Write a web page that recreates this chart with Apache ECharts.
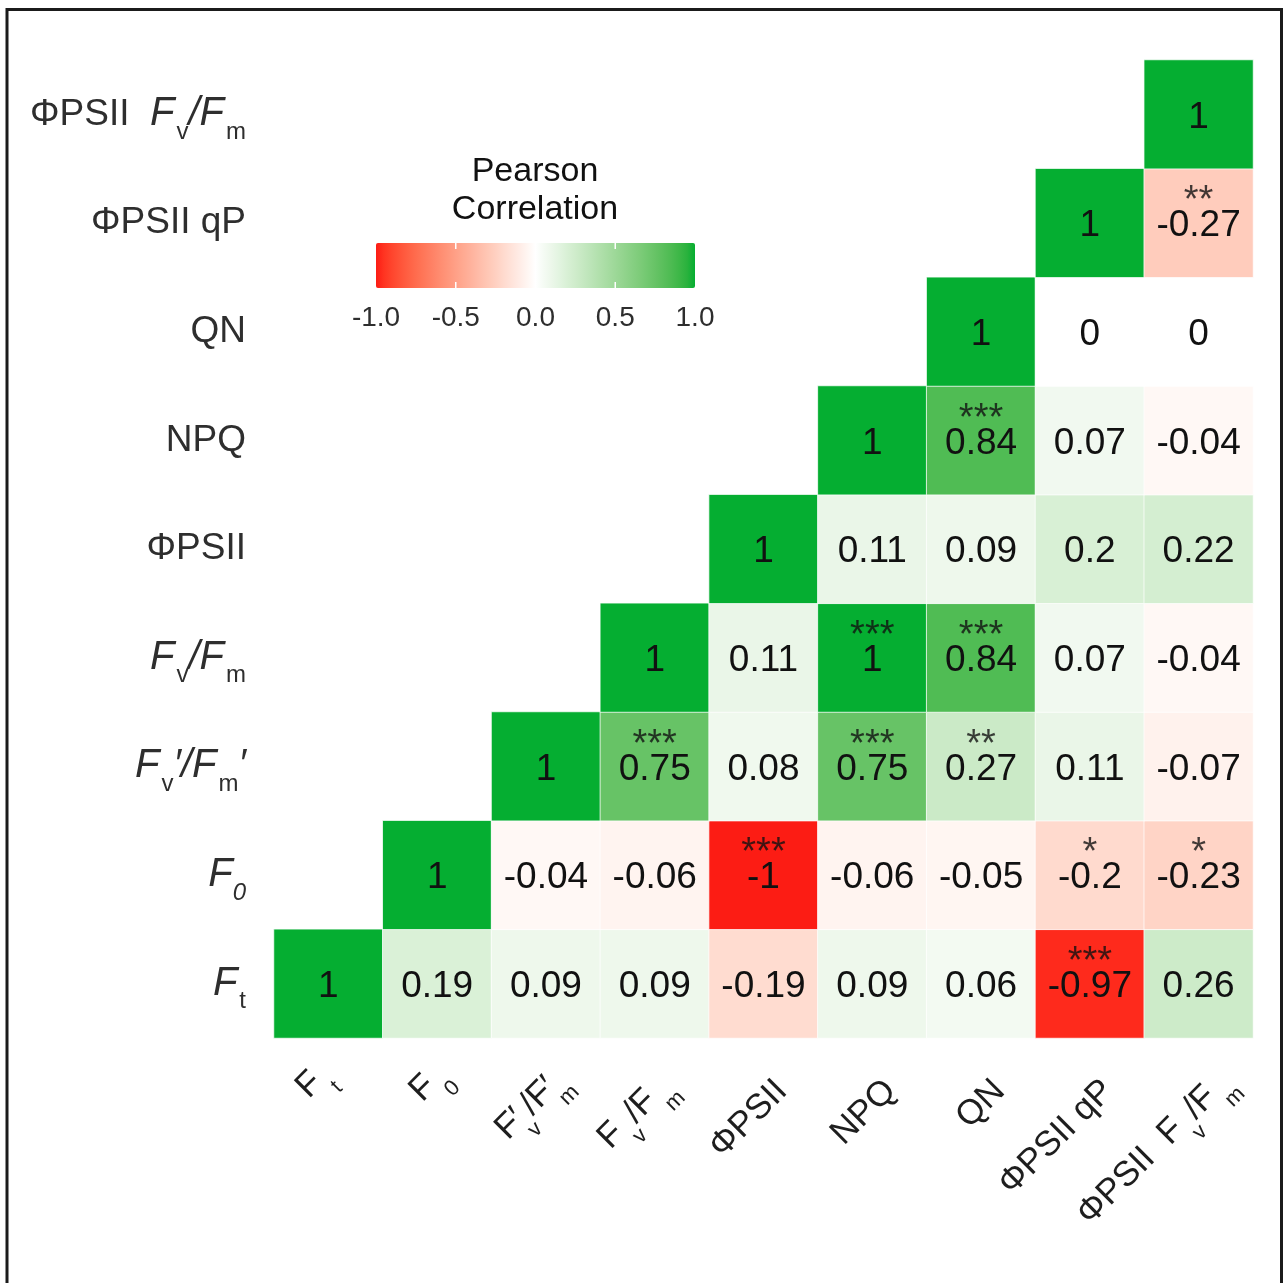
<!DOCTYPE html>
<html>
<head>
<meta charset="utf-8">
<title>Pearson correlation of chlorophyll fluorescence parameters</title>
<script src="https://cdn.jsdelivr.net/npm/echarts@6/dist/echarts.min.js"></script>
<style>
  html, body { margin: 0; padding: 0; background: #ffffff; }
  #chart { width: 1283px; height: 1283px; }
</style>
</head>
<body>
<div id="chart"></div>
<script>
// Parameters, ordered left-to-right on x and bottom-to-top on y
const variables = ['Ft', 'F0', "Fv'/Fm'", 'Fv/Fm', 'ΦPSII', 'NPQ', 'QN', 'ΦPSII qP', 'ΦPSII Fv/Fm'];

// Correlation coefficients, one array per row (bottom row first); null = blank half
const rowFt      = [1, 0.19, 0.09, 0.09, -0.19, 0.09, 0.06, -0.97, 0.26];
const rowF0      = [null, 1, -0.04, -0.06, -1, -0.06, -0.05, -0.2, -0.23];
const rowFvpFmp  = [null, null, 1, 0.75, 0.08, 0.75, 0.27, 0.11, -0.07];
const rowFvFm    = [null, null, null, 1, 0.11, 1, 0.84, 0.07, -0.04];
const rowPSII    = [null, null, null, null, 1, 0.11, 0.09, 0.2, 0.22];
const rowNPQ     = [null, null, null, null, null, 1, 0.84, 0.07, -0.04];
const rowQN      = [null, null, null, null, null, null, 1, 0, 0];
const rowPSIIqP  = [null, null, null, null, null, null, null, 1, -0.27];
const rowPSIIFvFm = [null, null, null, null, null, null, null, null, 1];

// Significance marks for the same cells
const sigFt      = ['', '', '', '', '', '', '', '***', ''];
const sigF0      = ['', '', '', '', '***', '', '', '*', '*'];
const sigFvpFmp  = ['', '', '', '***', '', '***', '**', '', ''];
const sigFvFm    = ['', '', '', '', '', '***', '***', '', ''];
const sigPSII    = ['', '', '', '', '', '', '', '', ''];
const sigNPQ     = ['', '', '', '', '', '', '***', '', ''];
const sigQN      = ['', '', '', '', '', '', '', '', ''];
const sigPSIIqP  = ['', '', '', '', '', '', '', '', '**'];
const sigPSIIFvFm = ['', '', '', '', '', '', '', '', ''];

// Colour bar tick labels
const legendTicks = [-1.0, -0.5, 0.0, 0.5, 1.0];

const corrRows = [rowFt, rowF0, rowFvpFmp, rowFvFm, rowPSII, rowNPQ, rowQN, rowPSIIqP, rowPSIIFvFm];
const sigRows = [sigFt, sigF0, sigFvpFmp, sigFvFm, sigPSII, sigNPQ, sigQN, sigPSIIqP, sigPSIIFvFm];

// ---- diverging colour scale (red - white - green), interpolated in CIE Lab ----
const LOW = '#FC1C14', MID = '#FFFFFF', HIGH = '#05AE31';
function toLin(c) { c /= 255; return c <= 0.04045 ? c / 12.92 : Math.pow((c + 0.055) / 1.055, 2.4); }
function fromLin(c) {
  const v = c <= 0.0031308 ? 12.92 * c : 1.055 * Math.pow(c, 1 / 2.4) - 0.055;
  return Math.round(Math.max(0, Math.min(1, v)) * 255);
}
const Xn = 0.95047, Yn = 1.0, Zn = 1.08883;
function hexToLab(hex) {
  const r = toLin(parseInt(hex.slice(1, 3), 16));
  const g = toLin(parseInt(hex.slice(3, 5), 16));
  const b = toLin(parseInt(hex.slice(5, 7), 16));
  const X = (0.4124 * r + 0.3576 * g + 0.1805 * b) / Xn;
  const Y = (0.2126 * r + 0.7152 * g + 0.0722 * b) / Yn;
  const Z = (0.0193 * r + 0.1192 * g + 0.9505 * b) / Zn;
  const f = t => t > 0.008856 ? Math.cbrt(t) : 7.787 * t + 16 / 116;
  const fx = f(X), fy = f(Y), fz = f(Z);
  return [116 * fy - 16, 500 * (fx - fy), 200 * (fy - fz)];
}
function labToHex(L, a, b) {
  const fy = (L + 16) / 116, fx = fy + a / 500, fz = fy - b / 200;
  const inv = t => (t * t * t > 0.008856 ? t * t * t : (t - 16 / 116) / 7.787);
  const X = Xn * inv(fx), Y = Yn * inv(fy), Z = Zn * inv(fz);
  const r = 3.2406 * X - 1.5372 * Y - 0.4986 * Z;
  const g = -0.9689 * X + 1.8758 * Y + 0.0415 * Z;
  const bb = 0.0557 * X - 0.2040 * Y + 1.0570 * Z;
  const h = v => fromLin(v).toString(16).padStart(2, '0');
  return '#' + h(r) + h(g) + h(bb);
}
function buildStops(n) {
  const lo = hexToLab(LOW), mi = hexToLab(MID), hi = hexToLab(HIGH);
  const out = [];
  for (let i = 0; i <= n; i++) {
    const v = -1 + 2 * i / n;
    const to = v < 0 ? lo : hi, t = Math.abs(v);
    out.push(labToHex(mi[0] + (to[0] - mi[0]) * t, mi[1] + (to[1] - mi[1]) * t, mi[2] + (to[2] - mi[2]) * t));
  }
  return out;
}
const scaleColors = buildStops(40);

// ---- series data ----
const heatData = [];
const starData = [];
corrRows.forEach((row, yi) => {
  row.forEach((v, xi) => {
    if (v === null) return;
    heatData.push([xi, yi, v]);
    if (sigRows[yi][xi]) starData.push({ value: [xi, yi], stars: sigRows[yi][xi] });
  });
});

const FONT = "'Liberation Sans', Arial, Helvetica, sans-serif";

// Axis label markup (rich text) for subscripts / italics
const yLabelText = {
  'Ft': '{i|F}{s|t}',
  'F0': '{i|F}{si|0}',
  "Fv'/Fm'": '{i|F}{s|v}{i|′/F}{s|m}{i|′}',
  'Fv/Fm': '{i|F}{s|v}{i|/F}{s|m}',
  'ΦPSII': 'ΦPSII',
  'NPQ': 'NPQ',
  'QN': 'QN',
  'ΦPSII qP': 'ΦPSII qP',
  'ΦPSII Fv/Fm': 'ΦPSII  {i|F}{s|v}{i|/F}{s|m}'
};
const xLabelText = {
  'Ft': 'F{s|t}',
  'F0': 'F{s|0}',
  "Fv'/Fm'": 'F′{sp|v}/F′{sp|m}',
  'Fv/Fm': 'F{s|v}/F{s|m}',
  'ΦPSII': 'ΦPSII',
  'NPQ': 'NPQ',
  'QN': 'QN',
  'ΦPSII qP': 'ΦPSII qP',
  'ΦPSII Fv/Fm': 'ΦPSII  F{s|v}/F{s|m}'
};
// Per-label box padding for the slanted x labels [top, right, bottom, left]
const xLabelPad = {
  'Ft': [0, -21, 54, 0],
  'F0': [0, -28, 42, 0],
  "Fv'/Fm'": [0, -34, 21, 0],
  'Fv/Fm': [0, -26, 17, 0],
  'ΦPSII Fv/Fm': [0, -40, 0, 0]
};
const xAxisData = variables.map(v => xLabelPad[v]
  ? { value: v, textStyle: { padding: xLabelPad[v] } }
  : v);

// ---- colour bar legend geometry ----
const barLeft = 376, barTop = 243, barW = 319, barH = 45;
const tickX = v => barLeft + (v + 1) / 2 * barW;

const gradStops = scaleColors.map((c, i) => ({ offset: i / (scaleColors.length - 1), color: c }));
const legendGraphics = [
  { type: 'text', x: 535, y: 172, style: { text: 'Pearson', fontSize: 34, fontFamily: FONT, fill: '#111', align: 'center', verticalAlign: 'middle' } },
  { type: 'text', x: 535, y: 210, style: { text: 'Correlation', fontSize: 34, fontFamily: FONT, fill: '#111', align: 'center', verticalAlign: 'middle' } },
  { type: 'rect', shape: { x: barLeft, y: barTop, width: barW, height: barH, r: 2 },
    style: { fill: new echarts.graphic.LinearGradient(0, 0, 1, 0, gradStops) } }
];
legendTicks.forEach(v => {
  legendGraphics.push({ type: 'text', x: tickX(v), y: 318,
    style: { text: v.toFixed(1), fontSize: 28, fontFamily: FONT, fill: '#2e2e2e', align: 'center', verticalAlign: 'middle' } });
  if (v > -1 && v < 1) {
    legendGraphics.push({ type: 'line', shape: { x1: tickX(v), y1: barTop, x2: tickX(v), y2: barTop + 6 }, style: { stroke: '#fff', lineWidth: 1.5 } });
    legendGraphics.push({ type: 'line', shape: { x1: tickX(v), y1: barTop + barH - 6, x2: tickX(v), y2: barTop + barH }, style: { stroke: '#fff', lineWidth: 1.5 } });
  }
});
// outer frame
legendGraphics.push({ type: 'rect', shape: { x: 7, y: 9.5, width: 1274.5, height: 1300 },
  style: { fill: 'none', stroke: '#1b1b1b', lineWidth: 3 }, z: 100 });

const chart = echarts.init(document.getElementById('chart'), null, { renderer: 'canvas' });
chart.setOption({
  backgroundColor: '#ffffff',
  animation: false,
  grid: { left: 274, top: 60, width: 979, height: 978, containLabel: false },
  xAxis: {
    type: 'category',
    data: xAxisData,
    axisLine: { show: false },
    axisTick: { show: false },
    splitLine: { show: false },
    axisLabel: {
      interval: 0,
      rotate: 45,
      margin: 66,
      padding: [0, -26, 0, 0],
      fontSize: 35,
      fontFamily: FONT,
      color: '#1e1e1e',
      formatter: name => xLabelText[name],
      rich: {
        s: { fontSize: 22, fontFamily: FONT, color: '#1e1e1e', padding: [42, 0, 0, 4], lineHeight: 22 },
        sp: { fontSize: 22, fontFamily: FONT, color: '#1e1e1e', padding: [42, 2, 0, -6], lineHeight: 22 }
      }
    }
  },
  yAxis: {
    type: 'category',
    data: variables,
    axisLine: { show: false },
    axisTick: { show: false },
    splitLine: { show: false },
    axisLabel: {
      interval: 0,
      margin: 28,
      fontSize: 37,
      fontFamily: FONT,
      color: '#2e2e2e',
      formatter: name => yLabelText[name],
      rich: {
        i: { fontSize: 40, fontStyle: 'italic', fontFamily: FONT, color: '#2e2e2e', lineHeight: 46 },
        s: { fontSize: 24, fontFamily: FONT, color: '#2e2e2e', padding: [36, 0, 0, 2], lineHeight: 24 },
        si: { fontSize: 24, fontStyle: 'italic', fontFamily: FONT, color: '#2e2e2e', padding: [36, 0, 0, 0], lineHeight: 24 }
      }
    }
  },
  visualMap: {
    type: 'continuous',
    show: false,
    min: -1,
    max: 1,
    seriesIndex: 0,
    inRange: { color: scaleColors }
  },
  series: [
    {
      type: 'heatmap',
      data: heatData,
      itemStyle: { borderColor: 'rgba(255,255,255,0.75)', borderWidth: 1 },
      label: {
        show: true,
        formatter: p => String(p.value[2]),
        offset: [0, 3],
        fontSize: 37,
        fontFamily: FONT,
        color: '#111'
      },
      emphasis: { disabled: true }
    },
    {
      type: 'scatter',
      data: starData,
      symbol: 'circle',
      symbolSize: 1,
      itemStyle: { color: 'rgba(0,0,0,0)' },
      silent: true,
      z: 5,
      label: {
        show: true,
        position: 'inside',
        offset: [0, -21],
        formatter: p => p.data.stars,
        fontSize: 38,
        fontFamily: FONT,
        color: '#111'
      }
    }
  ],
  graphic: legendGraphics
});
</script>
</body>
</html>
